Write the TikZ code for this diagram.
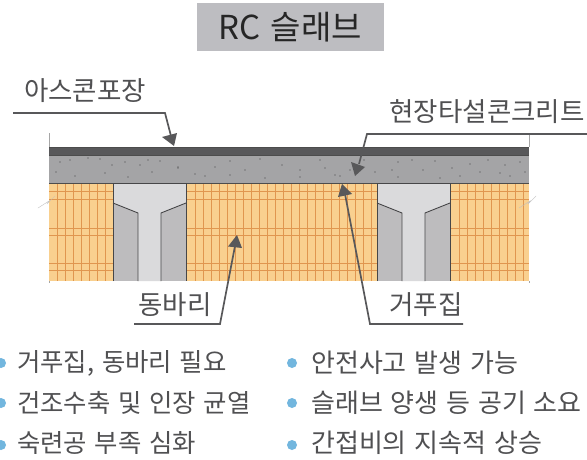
\documentclass[tikz,border=0pt]{standalone}
\usepackage{fontspec}
\setmainfont[WordSpace=1.35]{Noto Sans CJK KR}
\definecolor{txt}{HTML}{505052}
\definecolor{tbg}{HTML}{BDBDC1}
\definecolor{asph}{HTML}{58585A}
\definecolor{conc}{HTML}{A4A4A6}
\definecolor{wood}{HTML}{F9D08F}
\definecolor{grid}{HTML}{E0964F}
\definecolor{beamL}{HTML}{DADADC}
\definecolor{beamD}{HTML}{BDBCBE}
\definecolor{bull}{HTML}{72B6DE}
\tikzset{
 lab/.style={text=txt,inner sep=0pt,font=\fontsize{26.5}{28}\selectfont},
 item/.style={text=txt,inner sep=0pt,anchor=west,font=\fontsize{26}{28}\selectfont},
 itemleft/.style={item,font=\fontsize{25.4}{28}\selectfont},
 leader/.style={draw=asph,line width=1.7pt},
 tip/.style={fill=asph,draw=none},
 edge/.style={draw=asph!80!black,line width=0.9pt},
 dot/.style={circle,fill=bull,minimum size=10pt,inner sep=0pt},
 thinl/.style={draw=gray!70,line width=0.35pt}
}
\begin{document}
\begin{tikzpicture}[x=1pt,y=-1pt]
\useasboundingbox (0,0) rectangle (587,460);
\fill[white] (0,0) rectangle (587,460);
% title
\node[fill=tbg,minimum width=187pt,minimum height=48pt,inner sep=0pt,font=\fontsize{33}{35}\selectfont,text=black!85] (title) at (290.5,27) {RC 슬래브};
% wood
\fill[wood] (49,183) rectangle (529,281);
\begin{scope}
\clip (49,183) rectangle (529,281);
\foreach \x in {57,65,73,81,89,97,105,113,195,203,211,219,227,235,243,251,259,267,275,283,291,299,307,315,323,331,339,347,355,363,371,379,459,467,475,483,491,499,507,515,523}
  \draw[grid,line width=0.45pt] (\x,183)--(\x,281);
\foreach \y in {191,199,228,235,263.5,270}
  \draw[grid,line width=0.55pt] (49,\y)--(529,\y);
\end{scope}
% concrete
\fill[conc] (49,155) rectangle (529,183);
\foreach \x/\y in {70/160,88/158,100/159,125/162,140/165,160/161,178/167,56/172,75/176,105/173,128/177,152/172,178/168,195/174,230/161,260/159,282/165,300/170,230/175,205/176,265/178,320/160,335/175,350/170,364/160,375/172,398/162,412/160,423/170,452/168,470/164,488/160,505/165,520/162,460/176,500/173,398/177,340/176,300/177,510/176,440/178,215/167,245/170,60/162,112/165,392/170,435/161,480/172,525/172,325/168,148/160}
  \fill[gray!50!black] (\x,\y) circle (0.7pt);
% asphalt
\fill[asph] (49,147) rectangle (529,155);
\draw[black!70,line width=0.8pt] (49,147)--(529,147) (49,155.5)--(529,155.5) (49,183)--(529,183);
% end marks
\draw[thinl] (49,133)--(49,147) (49,281)--(49,283);
\draw[thinl] (529,134)--(529,147) (529,281)--(529,283);
\draw[thinl,draw=gray!50] (38,208)--(49,201)--(47,204)--(55,196);
\draw[thinl,draw=gray!50] (519,208)--(530,201)--(528,204)--(536,196);
% beams
\foreach \o in {0,264}{
 \fill[beamD] (113+\o,183) rectangle (186+\o,281);
 \fill[beamL] (113+\o,183) -- (186+\o,183) -- (186+\o,203) -- (161+\o,213) -- (161+\o,281) -- (138+\o,281) -- (138+\o,213) -- (113+\o,203) -- cycle;
 \draw[edge] (113+\o,281)--(113+\o,183)--(186+\o,183)--(186+\o,281);
 \draw[edge] (113+\o,203)--(138+\o,213)--(138+\o,281);
 \draw[edge] (186+\o,203)--(161+\o,213)--(161+\o,281);
}
% labels
\node[lab] (aspl) at (85,91) {아스콘포장};
\node[lab] (insl) at (487,112) {현장타설콘크리트};
\node[lab] (dong) at (175,305) {동바리};
\node[lab] (geo) at (426,305) {거푸집};
% free ends
\coordinate (a0) at (13,113); \coordinate (a1) at (165,113); \coordinate (a2) at (174,146);
\coordinate (b0) at (587,134); \coordinate (b1) at (367,134); \coordinate (b2) at (355,176);
\coordinate (c0) at (134,324); \coordinate (c1) at (220,324); \coordinate (c2) at (237,235);
\coordinate (d0) at (463,324); \coordinate (d1) at (370,324); \coordinate (d2) at (342,184);
% leaders
\draw[leader] (a0)--(a1)--(171,136);
\fill[tip] (a2)--(162,137)--(177,133)--cycle;
\draw[leader] (b0)--(b1)--(359,164);
\fill[tip] (b2)--(351,162)--(365,167)--cycle;
\draw[leader] (c0)--(c1)--(235,246);
\fill[tip] (c2)--(228,246.5)--(242,248)--cycle;
\draw[leader] (d0)--(d1)--(345,194);
\fill[tip] (d2)--(338,197)--(352,194)--cycle;
% bullets
\node[dot] (p1) at (1,363) {};
\node[dot] (p2) at (1,403) {};
\node[dot] (p3) at (1,445) {};
\node[dot] (q1) at (292,363) {};
\node[dot] (q2) at (292,403) {};
\node[dot] (q3) at (292,445) {};
\node[itemleft] (t1) at (17,363) {거푸집, 동바리 필요};
\node[itemleft] (t2) at (17,403) {건조수축 및 인장 균열};
\node[itemleft] (t3) at (17,443) {숙련공 부족 심화};
\node[item] (u1) at (311,363) {안전사고 발생 가능};
\node[item] (u2) at (311,403) {슬래브 양생 등 공기 소요};
\node[item] (u3) at (311,443) {간접비의 지속적 상승};
\end{tikzpicture}
\end{document}
